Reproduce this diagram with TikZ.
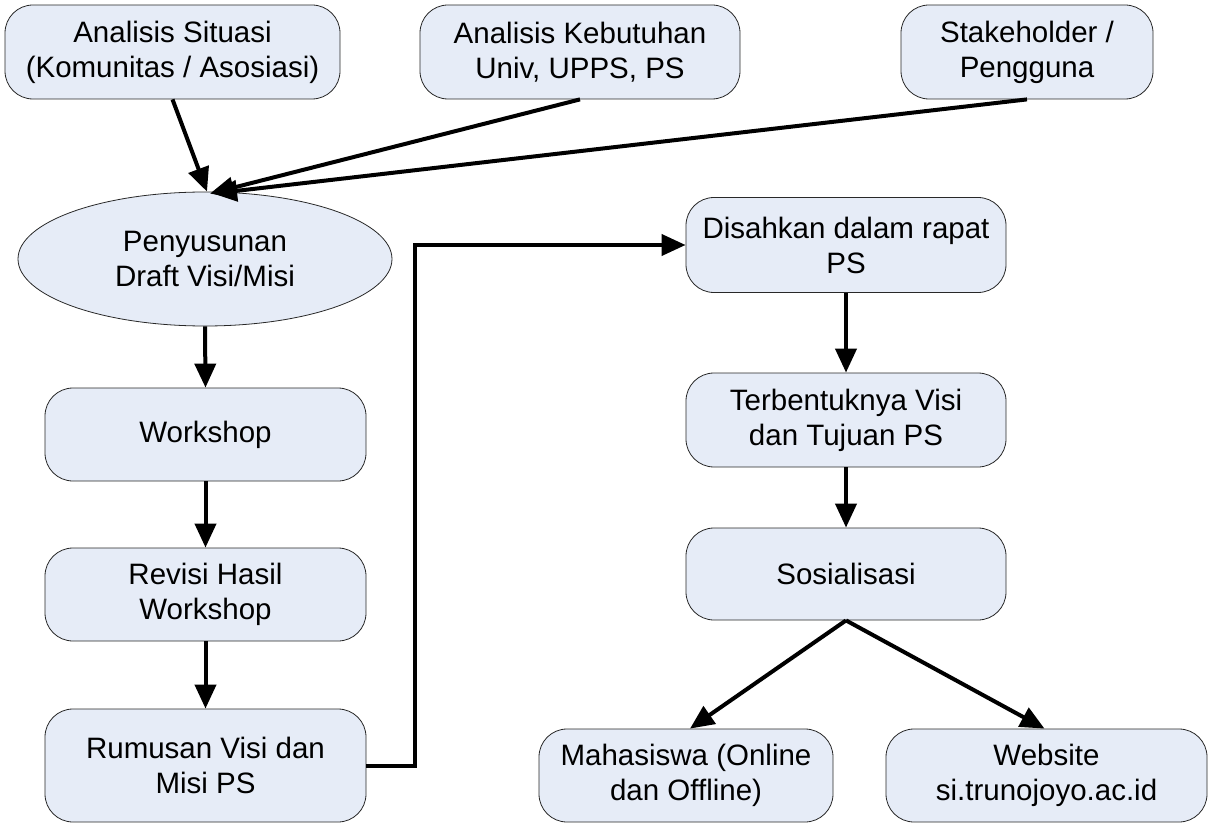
\documentclass[tikz,border=0pt]{standalone}
\usepackage{fontspec}
\setmainfont{Liberation Sans}
\usetikzlibrary{arrows.meta,shapes.geometric}
\definecolor{boxfill}{RGB}{230,236,247}
\definecolor{boxline}{RGB}{40,40,40}
\tikzset{
  box/.style={draw=boxline,line width=0.8pt,fill=boxfill,rounded corners=28pt,
    align=center,inner sep=0pt,font=\fontsize{29.5}{35}\selectfont},
  ell/.style={draw=boxline,line width=0.8pt,fill=boxfill,ellipse,
    align=center,inner sep=0pt,font=\fontsize{29.5}{35}\selectfont},
  conn/.style={line width=4pt,-{Triangle[length=24pt,width=21pt]}},
}
\begin{document}
\begin{tikzpicture}[x=1pt,y=-1pt]
\useasboundingbox (0,0) rectangle (1210,826);
\node[box,minimum width=335pt,minimum height=94pt] (A) at (172.5,52) {Analisis Situasi\\(Komunitas / Asosiasi)};
\node[box,minimum width=320pt,minimum height=94pt] (B) at (580,52) {Analisis Kebutuhan\\Univ, UPPS, PS};
\node[box,minimum width=252pt,minimum height=94pt] (C) at (1027,52) {Stakeholder /\\Pengguna};
\node[ell,minimum width=374pt,minimum height=134pt] (E) at (205,259) {Penyusunan\\Draft Visi/Misi};
\node[box,minimum width=321pt,minimum height=93pt] (W) at (205.5,434.5) {Workshop};
\node[box,minimum width=321pt,minimum height=93pt] (R) at (205.5,594.5) {Revisi Hasil\\Workshop};
\node[box,minimum width=321pt,minimum height=113pt] (M) at (205.5,765.5) {Rumusan Visi dan\\Misi PS};
\node[box,minimum width=320pt,minimum height=95pt] (D) at (846,245) {Disahkan dalam rapat\\PS};
\node[box,minimum width=320pt,minimum height=94pt] (T) at (846,420) {Terbentuknya Visi\\dan Tujuan PS};
\node[box,minimum width=320pt,minimum height=92pt] (S) at (846,574) {Sosialisasi};
\node[box,minimum width=294pt,minimum height=93pt] (H) at (686,775.5) {Mahasiswa (Online\\dan Offline)};
\node[box,minimum width=321pt,minimum height=93pt] (X) at (1046.5,775.5) {Website\\si.trunojoyo.ac.id};
\draw[conn] (A.south) -- ([xshift=2pt]E.north);
\draw[conn] (B.south) -- ([xshift=5pt,yshift=-2pt]E.north);
\draw[conn] (C.south) -- ([xshift=8pt,yshift=-2pt]E.north);
\draw[conn] (E.south) -- (W.north);
\draw[conn] (W.south) -- (R.north);
\draw[conn] (R.south) -- (M.north);
\draw[conn] (M.east) -- ++(49,0) |- (D.west);
\draw[conn] (D.south) -- (T.north);
\draw[conn] (T.south) -- (S.north);
\draw[conn] (S.south) -- ([xshift=4pt]H.north);
\draw[conn] (S.south) -- ([xshift=-2pt]X.north);
\end{tikzpicture}
\end{document}
